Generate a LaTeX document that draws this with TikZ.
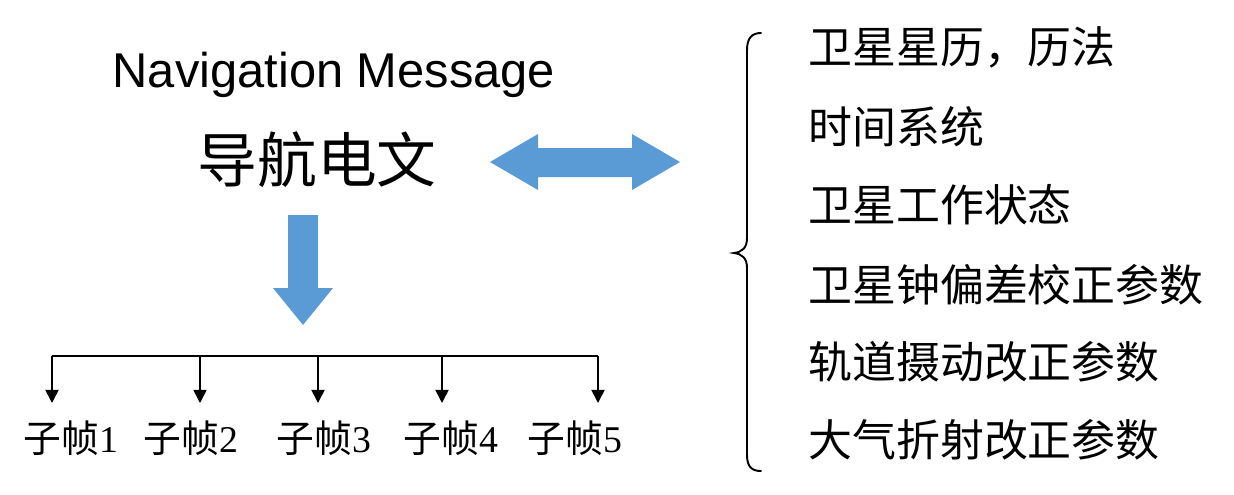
\documentclass[tikz,border=0pt]{standalone}
\usepackage{fontspec}
\setmainfont{Liberation Serif}
\newfontfamily\enfont{Liberation Sans}
\newfontfamily\cjksans{Noto Sans CJK SC}
\newfontfamily\cjkserif{Noto Sans CJK SC}
\usetikzlibrary{arrows.meta}
\definecolor{blockblue}{HTML}{5B9BD5}
\begin{document}
\begin{tikzpicture}[x=0.02cm,y=-0.02cm,
  blockarrow/.style={fill=blockblue,draw=none},
  listitem/.style={anchor=west,inner sep=0pt,font=\cjksans\fontsize{25}{30}\selectfont},
  sublabel/.style={anchor=center,inner sep=0pt,font=\fontsize{21.5}{25}\selectfont},
  treeline/.style={line width=0.9pt},
  treearrow/.style={line width=0.9pt,-{Triangle[length=7.5pt,width=7.5pt]}},
  bracestyle/.style={line width=1.1pt,line cap=round}]
\useasboundingbox (0,0) rectangle (1234,494);
% titles
\node[inner sep=0pt,font=\enfont\fontsize{27.8}{33}\selectfont] (title) at (334,75) {Navigation Message};
\node[inner sep=0pt,font=\cjksans\fontsize{34}{40}\selectfont] (cn) at (317,160) {导航电文};
% double block arrow
\fill[blockarrow] (490,162) -- (538,134) -- (538,148) -- (632,148) -- (632,134) -- (680,162)
  -- (632,190) -- (632,177) -- (538,177) -- (538,190) -- cycle;
% down block arrow
\fill[blockarrow] (288,215) -- (318,215) -- (318,288) -- (333,288) -- (303,325) -- (273,288) -- (288,288) -- cycle;
% tree
\coordinate (b1) at (52,356);
\coordinate (b2) at (200,356);
\coordinate (b3) at (318,356);
\coordinate (b4) at (442,356);
\coordinate (b5) at (598,356);
\draw[treeline] (b1) -- (b5);
\foreach \i/\x/\lx in {1/52/71,2/200/191,3/318/324,4/442/451,5/598/575}{
  \coordinate (t\i) at (\x,403);
  \node[sublabel] (s\i) at (\lx,438) {{\cjkserif 子帧}\i};
  \draw[treearrow] (b\i) -- (t\i);
}
% brace
\draw[bracestyle] (761,33) .. controls (752,33) and (747,38) .. (747,50)
  -- (747,238) .. controls (747,248) and (742,252) .. (734,253)
  .. controls (742,254) and (747,258) .. (747,268)
  -- (747,455) .. controls (747,467) and (752,471) .. (761,471);
% list
\node[listitem] (r1) at (808,47) {卫星星历，历法};
\node[listitem] (r2) at (808,127) {时间系统};
\node[listitem] (r3) at (808,205) {卫星工作状态};
\node[listitem] (r4) at (808,285) {卫星钟偏差校正参数};
\node[listitem] (r5) at (808,362) {轨道摄动改正参数};
\node[listitem] (r6) at (808,440) {大气折射改正参数};
\end{tikzpicture}
\end{document}
